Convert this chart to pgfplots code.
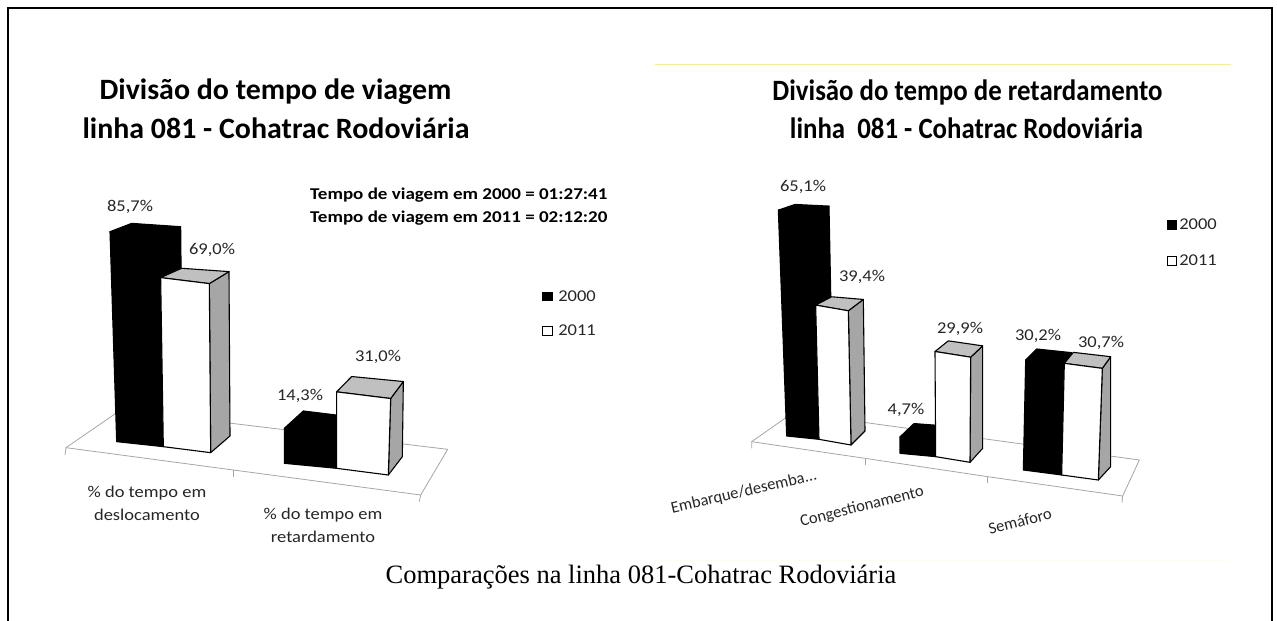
\documentclass[border=0pt]{standalone}
\usepackage{pgfplots}
\pgfplotsset{compat=1.18}
\usepackage{fontspec}
\setmainfont{Carlito}
\newfontfamily\lab[FakeStretch=1.12]{Carlito}
\newfontfamily\ttl{Carlito}
\newfontfamily\ttb[FakeStretch=1.014]{Carlito}
\newfontfamily\ttr[FakeStretch=0.91]{Carlito}
\newfontfamily\nota[FakeStretch=1.153]{Carlito}
\newfontfamily\capf{Liberation Serif}
\definecolor{sidegray}{HTML}{A6A6A6}
\definecolor{topgray}{HTML}{C0C0C0}
\definecolor{txt}{HTML}{262626}
% one 3-D looking column: value v drives the height, k = zoom units per percent
% #1 v, #2 k, #3 front, #4 side, #5 top, #6 edge,
% #7,#8 front-left foot; #9 front-right foot x
\newcommand\colbar[9]{%
  \def\cv{#1}\def\ck{#2}\def\cf{#3}\def\cs{#4}\def\ct{#5}\def\ce{#6}%
  \def\flx{#7}\def\fly{#8}\def\frx{#9}\colbarb}
% #1 front-right foot y; #2,#3 back-right foot x,y; top x of #4 FL, #5 FR, #6 BR, #7 BL; y offsets of #8 BR, #9 BL
\newcommand\colbarb[9]{%
  \pgfmathsetmacro\flt{\fly-\ck*\cv}%
  \pgfmathsetmacro\frt{#1-\ck*\cv}%
  \pgfmathsetmacro\brt{\frt+#8}%
  \pgfmathsetmacro\blt{\flt+#9}%
  \edef\sidep{\noexpand\addplot[draw=\ce,fill=\cs,line width=1.1pt,line join=round]}%
  \edef\topp{\noexpand\addplot[draw=\ce,fill=\ct,line width=1.1pt,line join=round]}%
  \edef\frontp{\noexpand\addplot[draw=\ce,fill=\cf,line width=1.1pt,line join=round]}%
  \sidep coordinates {(\frx,#1)(#2,#3)(#6,\brt)(#5,\frt)} -- cycle;
  \topp coordinates {(#4,\flt)(#7,\blt)(#6,\brt)(#5,\frt)} -- cycle;
  \frontp coordinates {(\flx,\fly)(\frx,#1)(#5,\frt)(#4,\flt)} -- cycle;
}
\newcommand\T[3]{\node[inner sep=0pt,anchor=center,text=txt] at (axis cs:#1,#2) {\lab\fontsize{16.5}{19}\selectfont #3};}
\newcommand\R[4]{\node[inner sep=0pt,anchor=center,text=txt,rotate=#1] at (axis cs:#2,#3) {\ttl\fontsize{16.5}{19}\selectfont #4};}
\pgfplotsset{chart/.style={scale only axis,axis lines=none,clip=false,y dir=reverse,xmin=0,ymin=0,anchor=north west}}
\begin{document}
\begin{tikzpicture}[x=1pt,y=1pt]
\path[use as bounding box] (0,0) rectangle (1277,621);
% left chart, in 3x units of the crop starting at pixel (50,180)
\begin{axis}[chart,at={(50pt,441pt)},width=420pt,height=380pt,xmax=1260,ymax=1140]
\addplot[draw=gray!70,line width=0.8pt] coordinates {(45,825)(48,803)(550,870)(1112,945)(1108,965)};
\addplot[draw=gray!70,line width=0.8pt] coordinates {(550,870)(550,892)};
\addplot[draw=gray!70,line width=0.8pt] coordinates {(48,803)(212,690)(1193,808)(1112,945)};
\colbar{85.7}{7.35}{black}{black}{black}{black}{200}{785}{340}{800}{398}{760}{180}{332}{392}{245}{-30}{-25}
\colbar{69.0}{7.35}{white}{sidegray}{topgray}{black}{340}{800}{482}{818}{540}{768}{332}{478}{537}{395}{-36}{-28}
\colbar{14.3}{7.35}{black}{black}{black}{black}{703}{850}{860}{865}{915}{815}{703}{860}{915}{760}{-48}{-52}
\colbar{31.0}{7.4}{white}{sidegray}{topgray}{black}{860}{865}{1015}{885}{1057}{830}{860}{1022}{1060}{905}{-51}{-46}
\end{axis}
% right chart, in 3x units of the crop starting at pixel (660,170)
\begin{axis}[chart,at={(660pt,451pt)},width=480pt,height=380pt,xmax=1440,ymax=1140]
\addplot[draw=gray!70,line width=0.8pt] coordinates {(275,835)(275,815)(615,865)(983,920)(1388,978)(1386,998)};
\addplot[draw=gray!70,line width=0.8pt] coordinates {(615,865)(615,885)};
\addplot[draw=gray!70,line width=0.8pt] coordinates {(983,920)(983,940)};
\addplot[draw=gray!70,line width=0.8pt] coordinates {(275,815)(399,728)(1438,870)(1388,978)};
\colbar{65.1}{10.41}{black}{black}{black}{black}{380}{798}{477}{808}{520}{770}{355}{463}{507}{405}{-22}{-17}
\colbar{39.4}{10.22}{white}{sidegray}{topgray}{black}{477}{808}{573}{825}{615}{783}{467}{565}{610}{515}{-34}{-25}
\colbar{4.7}{10.5}{black}{black}{black}{black}{720}{850}{827}{860}{868}{820}{720}{825}{868}{762}{-42}{-40}
\colbar{29.9}{10.55}{white}{sidegray}{topgray}{black}{827}{860}{930}{877}{968}{835}{825}{932}{968}{865}{-34}{-32}
\colbar{30.2}{10.93}{black}{black}{black}{black}{1090}{900}{1205}{915}{1240}{875}{1097}{1213}{1235}{1130}{-37}{-33}
\colbar{30.7}{10.91}{white}{sidegray}{topgray}{black}{1205}{915}{1315}{930}{1352}{890}{1213}{1327}{1352}{1240}{-35}{-33}
\end{axis}
% frame and all text, in reference pixels
\begin{axis}[chart,at={(0pt,621pt)},width=1277pt,height=621pt,xmax=1277,ymax=621]
\addplot[draw=black,line width=2pt] coordinates {(8,630)(8,8)(1272,8)(1272,630)};
\addplot[draw=yellow!70,line width=0.8pt] coordinates {(655,64.5)(1231,64.5)};
\addplot[draw=yellow!8,line width=0.8pt] coordinates {(660,560)(1230,560)};
\addplot[fill=black,draw=black] coordinates {(542,292)(552,292)(552,300)(542,300)} -- cycle;
\addplot[fill=white,draw=black,line width=1pt] coordinates {(542,326)(552,326)(552,335)(542,335)} -- cycle;
\addplot[fill=black,draw=black] coordinates {(1167,220)(1176,220)(1176,229)(1167,229)} -- cycle;
\addplot[fill=white,draw=black,line width=1pt] coordinates {(1167,256)(1176,256)(1176,265)(1167,265)} -- cycle;
\node[inner sep=0pt] at (axis cs:275.5,92) {\ttb\bfseries\fontsize{29.5}{34}\selectfont Divisão do tempo de viagem};
\node[inner sep=0pt] at (axis cs:276,128) {\ttb\bfseries\fontsize{29.5}{34}\selectfont linha 081 - Cohatrac Rodoviária};
\node[inner sep=0pt] at (axis cs:967.5,92) {\ttr\bfseries\fontsize{29.5}{34}\selectfont Divisão do tempo de retardamento};
\node[inner sep=0pt] at (axis cs:966.5,128) {\ttr\bfseries\fontsize{29.5}{34}\selectfont linha~~081 - Cohatrac Rodoviária};
\node[inner sep=0pt,anchor=west] at (axis cs:310,195) {\nota\bfseries\fontsize{16.5}{19}\selectfont Tempo de viagem em 2000 = 01:27:41};
\node[inner sep=0pt,anchor=west] at (axis cs:310,218) {\nota\bfseries\fontsize{16.5}{19}\selectfont Tempo de viagem em 2011 = 02:12:20};
\T{130}{207}{85,7\%}\T{212}{250}{69,0\%}\T{300}{396}{14,3\%}\T{378}{357}{31,0\%}
\T{803}{187}{65,1\%}\T{862}{277}{39,4\%}\T{906}{410}{4,7\%}\T{960}{329}{29,9\%}\T{1038}{336}{30,2\%}\T{1101}{343}{30,7\%}
\T{577}{296}{2000}\T{577}{330}{2011}\T{1198}{224}{2000}\T{1198}{260}{2011}
\T{147}{493}{\% do tempo em}\T{147}{515}{deslocamento}\T{323}{515}{\% do tempo em}\T{323}{537}{retardamento}
\R{13}{744}{492}{Embarque/desemba...}\R{14}{862}{507}{Congestionamento}\R{14}{1020}{521}{Semáforo}
\node[inner sep=0pt,anchor=center] at (axis cs:641,577) {\capf\fontsize{26.5}{30}\selectfont Comparações na linha 081-Cohatrac Rodoviária};
\end{axis}
\end{tikzpicture}
\end{document}
